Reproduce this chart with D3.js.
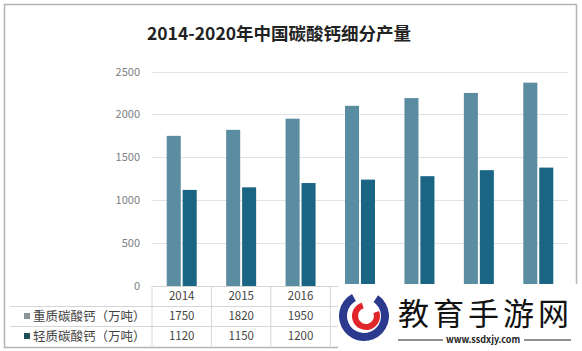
<!DOCTYPE html>
<html>
<head>
<meta charset="utf-8">
<script src="https://cdn.jsdelivr.net/npm/d3@7"></script>
<style>
  body { margin: 0; background: #fff; }
  text { font-family: "Noto Sans CJK SC", "Noto Sans", sans-serif; }
</style>
</head>
<body>
<div id="chart"></div>
<script>
'use strict'

// data
const years = ['2014', '2015', '2016', '2017', '2018', '2019', '2020']
const heavy = [1750, 1820, 1950, 2100, 2190, 2250, 2370]
const light = [1120, 1150, 1200, 1240, 1280, 1350, 1380]
const seriesNames = ['重质碳酸钙（万吨）', '轻质碳酸钙（万吨）']
const yTicks = [0, 500, 1000, 1500, 2000, 2500]

const W = 582, H = 351
const colors = ['#5b8da2', '#1b6584']
const markerColors = ['#8a9499', '#1f4f58']

const svg = d3.select('#chart').append('svg')
    .attr('width', W).attr('height', H)

// outer frame
svg.append('rect')
    .attr('x', 4.5).attr('y', 4.5)
    .attr('width', 572).attr('height', 343)
    .attr('fill', 'none').attr('stroke', '#b4b4b4').attr('stroke-width', 1.5)

svg.append('text')
    .attr('x', 279).attr('y', 40)
    .attr('text-anchor', 'middle')
    .style('font-size', '17.5px').style('font-weight', '700').style('fill', '#222')
    .text('2014-2020年中国碳酸钙细分产量')

const x = d3.scaleBand().domain(years).range([152, 568])
const y = d3.scaleLinear().domain([0, 2500]).range([286, 71.5])

// gridlines
svg.append('g').selectAll('line').data(yTicks).join('line')
    .attr('x1', 152).attr('x2', 568)
    .attr('y1', d => Math.round(y(d)) + 0.5).attr('y2', d => Math.round(y(d)) + 0.5)
    .attr('stroke', '#e2e2e2')

svg.append('g').selectAll('text').data(yTicks).join('text')
    .attr('x', 140).attr('y', d => y(d) + 4)
    .attr('text-anchor', 'end')
    .style('font-size', '11px').style('fill', '#808080')
    .text(d => d)

// bars
const inner = d3.scaleBand().domain([0, 1]).range([-15, 15]).paddingInner(0.12)
const series = [heavy, light]
series.forEach((vals, s) => {
    svg.append('g').selectAll('rect').data(vals).join('rect')
        .attr('x', (d, i) => x(years[i]) + x.bandwidth() / 2 + inner(s))
        .attr('width', inner.bandwidth())
        .attr('y', d => y(d))
        .attr('height', d => y(0) - y(d))
        .attr('fill', colors[s])
})

// data table (cells under the watermark are not visible in the source)
const rowH = 20, tableTop = 286, wmLeft = 338
const shown = d => x(d) + x.bandwidth() / 2 < wmLeft
const tbl = svg.append('g')
tbl.selectAll('line.h').data([0, 1, 2]).join('line')
    .attr('x1', d => d === 0 ? 152 : 10).attr('x2', 568)
    .attr('y1', d => tableTop + d * rowH + 0.5).attr('y2', d => tableTop + d * rowH + 0.5)
    .attr('stroke', '#d6d6d6')
tbl.selectAll('line.v').data(years.concat(['end'])).join('line')
    .attr('x1', d => d === 'end' ? 568 : x(d)).attr('x2', d => d === 'end' ? 568 : x(d))
    .attr('y1', tableTop).attr('y2', tableTop + 3 * rowH)
    .attr('stroke', '#d6d6d6')

tbl.selectAll('text.yr').data(years.filter(shown)).join('text')
    .attr('x', d => x(d) + x.bandwidth() / 2).attr('y', tableTop + 14)
    .attr('text-anchor', 'middle')
    .style('font-size', '11.5px').style('fill', '#444')
    .text(d => d)

series.forEach((vals, s) => {
    tbl.append('g').selectAll('text')
        .data(vals.map((v, i) => ({year: years[i], v})).filter(d => shown(d.year)))
        .join('text')
        .attr('x', d => x(d.year) + x.bandwidth() / 2)
        .attr('y', tableTop + (s + 1) * rowH + 14)
        .attr('text-anchor', 'middle')
        .style('font-size', '11.5px').style('fill', '#444')
        .text(d => d.v)
    tbl.append('rect')
        .attr('x', 24).attr('y', tableTop + (s + 1) * rowH + 7)
        .attr('width', 6).attr('height', 6)
        .attr('fill', markerColors[s])
    tbl.append('text')
        .attr('x', 33).attr('y', tableTop + (s + 1) * rowH + 15)
        .style('font-size', '12.5px').style('fill', '#444')
        .text(seriesNames[s])
})

// watermark from the source picture
const wm = svg.append('g')
wm.append('rect').attr('x', wmLeft).attr('y', 284).attr('width', 244).attr('height', 67).attr('fill', '#fff')
wm.append('path')
    .attr('transform', 'translate(364,316)')
    .attr('d', d3.arc()({innerRadius: 17, outerRadius: 25, startAngle: 0.6, endAngle: 2 * Math.PI - 0.5}))
    .attr('fill', '#2b3a8f')
wm.append('path')
    .attr('transform', 'translate(366,316)')
    .attr('d', d3.arc()({innerRadius: 8, outerRadius: 14, startAngle: 1.2, endAngle: 2 * Math.PI - 0.3}))
    .attr('fill', '#e0262b')
wm.append('text')
    .attr('x', 398).attr('y', 325)
    .style('font-size', '31px').style('fill', '#111').style('letter-spacing', '4px')
    .text('教育手游网')
wm.append('line').attr('x1', 398).attr('x2', 443).attr('y1', 340).attr('y2', 340).attr('stroke', '#222')
wm.append('line').attr('x1', 524).attr('x2', 571).attr('y1', 340).attr('y2', 340).attr('stroke', '#222')
wm.append('text')
    .attr('x', 483).attr('y', 343)
    .attr('text-anchor', 'middle')
    .style('font-size', '9px').style('font-weight', '700').style('fill', '#222')
    .text('www.ssdxjy.com')
</script>
</body>
</html>
